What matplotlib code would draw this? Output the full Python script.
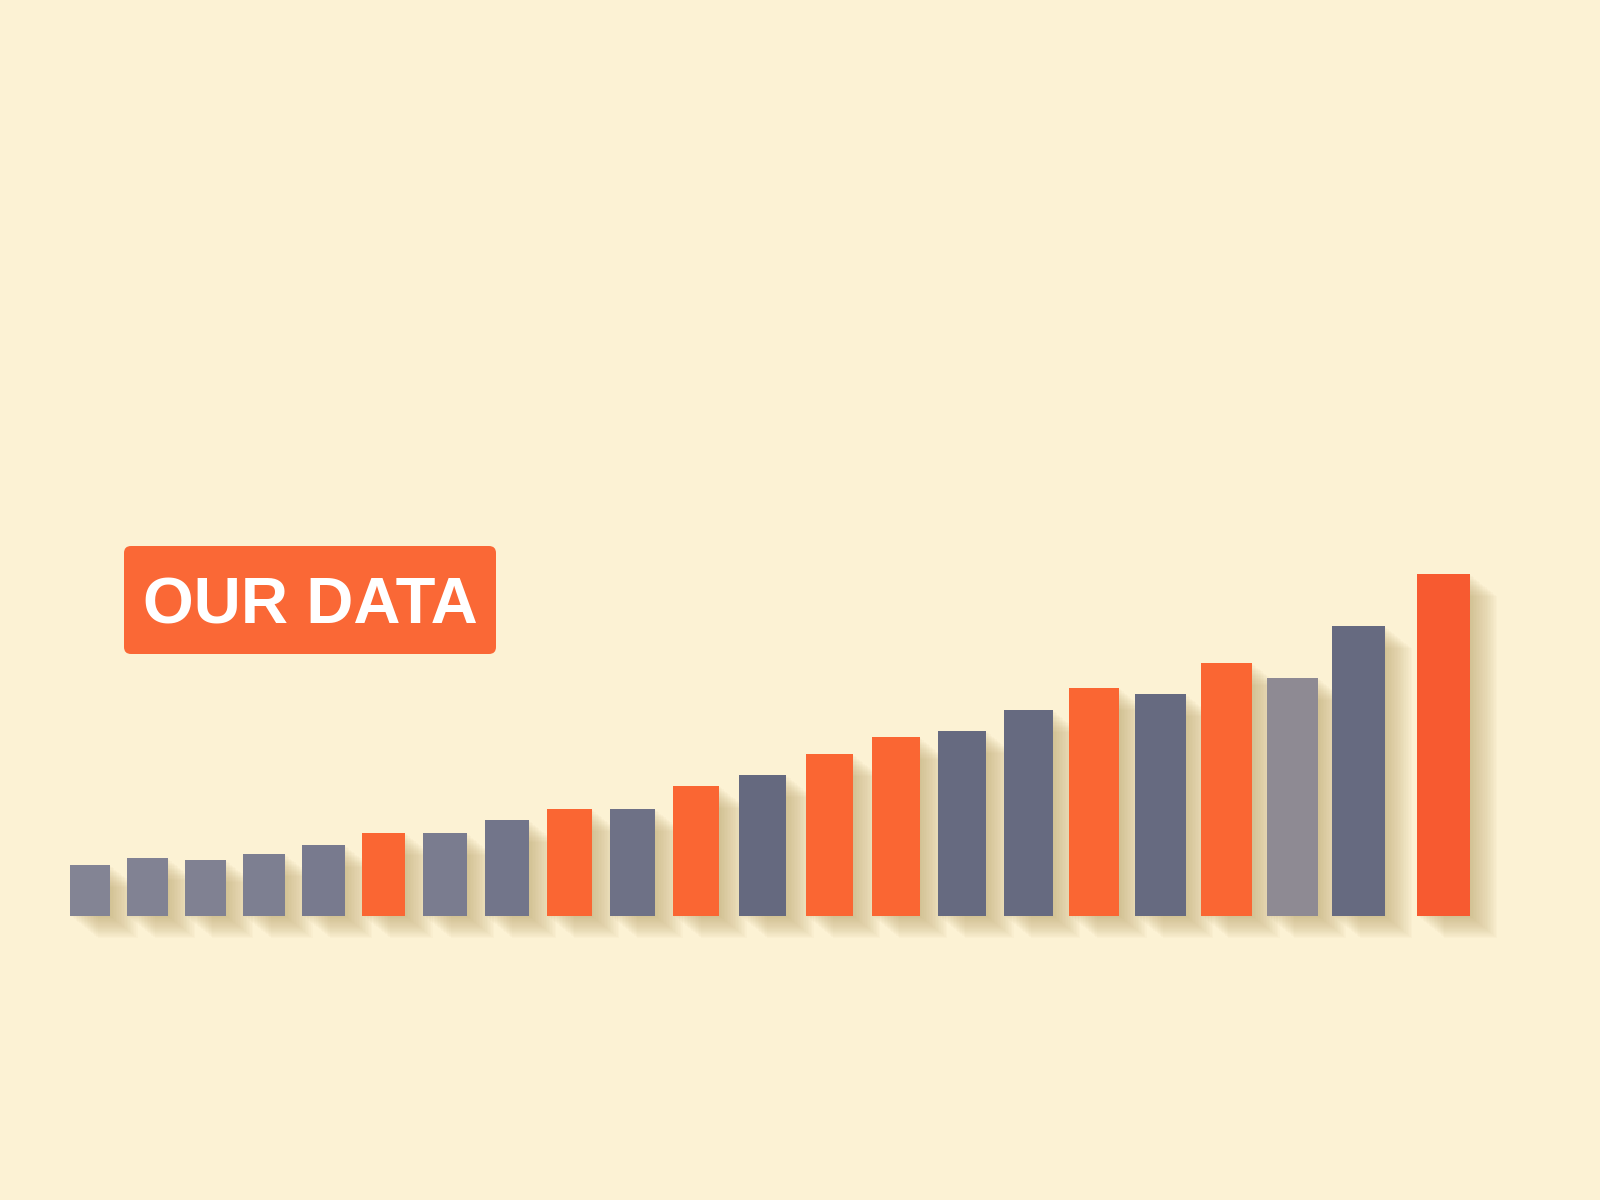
import numpy as np
import matplotlib.pyplot as plt
from matplotlib.patches import Rectangle, FancyBboxPatch
from matplotlib.transforms import ScaledTranslation, IdentityTransform

# bar values, left to right
values = [51, 58, 56, 62, 71, 83, 83, 96, 107, 107, 130, 141,
          162, 179, 185, 206, 228, 222, 253, 238, 290, 342]
groups = ['gray', 'gray', 'gray', 'gray', 'gray', 'orange', 'gray', 'slate',
          'orange', 'slate', 'orange', 'slate', 'orange', 'orange', 'slate',
          'slate', 'orange', 'slate', 'orange', 'mauve', 'slate', 'orange']
label = 'OUR DATA'

bar_colors = [
    '#838494', '#818293', '#808192', '#7D7F91', '#787A8E', '#FA6633',
    '#7A7C8F', '#72758A', '#FA6633', '#6E7186', '#FA6633', '#65697F',
    '#FA6633', '#FA6633', '#666A80', '#666A80', '#FA6633', '#666A80',
    '#FA6633', '#8E8A93', '#666A80', '#F75A30',
]
bg = '#FCF2D4'

fig = plt.figure(figsize=(16, 12), dpi=100, facecolor=bg)
ax = fig.add_axes([0, 0, 1, 1])
ax.set_facecolor(bg)
ax.set_xlim(0, 1600)
ax.set_ylim(-284, 916)
ax.axis('off')

# widths grow slowly from left to right, last bar set a bit apart
n = len(values)
widths = np.linspace(40, 53, n)
gaps = np.linspace(17, 19.5, n)
gaps[10:] = np.linspace(20, 12.5, n - 10)
lefts = []
x = 70
for i in range(n):
    if i == n - 1:
        x += 19
    lefts.append(x)
    x += widths[i] + gaps[i]

# soft diagonal shadow: stacked translated copies
steps = 18
for i in range(n):
    for t in np.linspace(0.05, 1.1, steps):
        off = ScaledTranslation(25 * t / 100, -20 * t / 100, fig.dpi_scale_trans)
        sh = Rectangle((lefts[i], 0), widths[i], values[i],
                       facecolor='#B89F66', edgecolor='none', alpha=0.04,
                       transform=ax.transData + off, zorder=1)
        ax.add_patch(sh)

ax.bar(lefts, values, width=widths, align='edge', color=bar_colors,
       edgecolor='none', zorder=3)

# label box (display pixels)
box = FancyBboxPatch((124, 546), 372, 108,
                     boxstyle='round,pad=0,rounding_size=7',
                     facecolor='#FA6836', edgecolor='none',
                     transform=IdentityTransform(), zorder=5)
fig.patches.append(box)
fig.text(310 / 1600, 1 - 606 / 1200, label, ha='center', va='center',
         fontsize=47, fontweight='bold', color='white',
         family=['Liberation Sans', 'DejaVu Sans'], zorder=6)

fig.savefig('out.png', dpi=100, facecolor=bg)
